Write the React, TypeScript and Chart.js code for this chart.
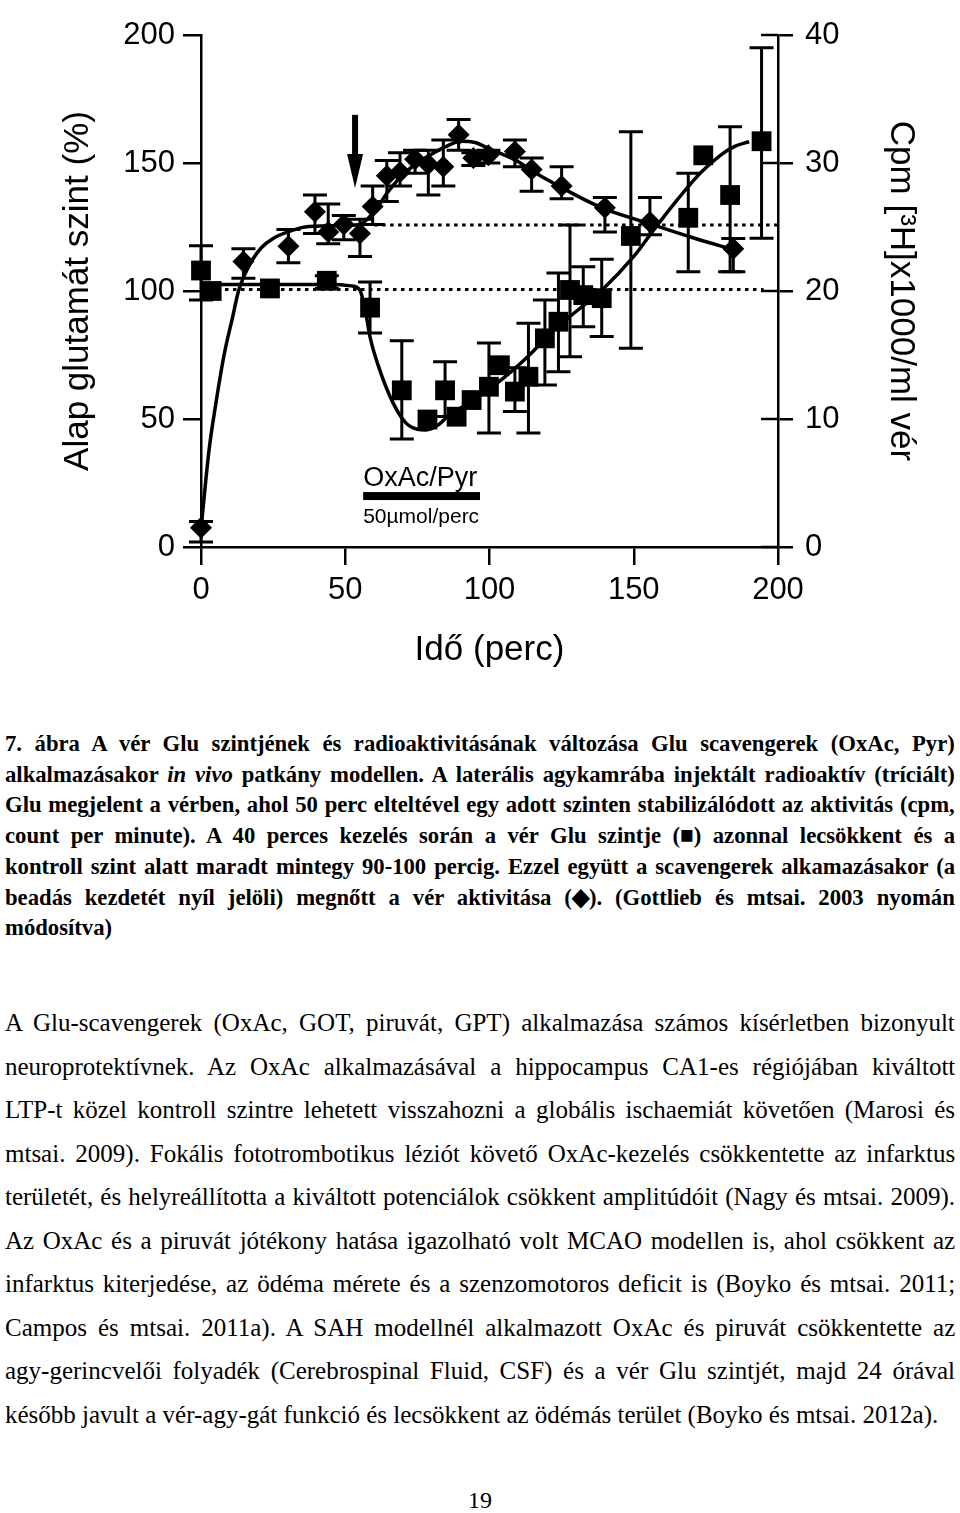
import React, { useEffect, useLayoutEffect, useRef } from 'react';
import { Chart, registerables } from 'chart.js';

Chart.register(...registerables);

// ---------- Axis ticks ----------
const timeTicks = [0, 50, 100, 150, 200];
const gluTicks = [0, 50, 100, 150, 200];
const cpmTicks = [0, 10, 20, 30, 40];

// ---------- Glu level (squares), % of baseline, left axis ----------
const gluTime = [0, 3.7, 23.9, 43.6, 58.6, 69.6, 78.5, 84.6, 88.6, 93.8, 99.8, 103.6, 108.8, 113.5, 119.2, 123.9, 127.9, 132.5, 138.9, 149.0, 168.9, 174.1, 183.4, 194.3];
const gluLevel = [108, 100, 101, 104, 93.5, 61.2, 49.8, 61.2, 50.9, 57.4, 62.6, 71, 60.7, 66.5, 81.5, 88, 100.4, 98.4, 97.2, 121.5, 128.6, 153, 137.5, 158.5];
const gluErrLow = [96.5, null, null, 101, 83.6, 42.2, null, 51, null, null, 44.5, null, 52.9, 44.5, 63.3, 68.5, 74.3, 86, 82.2, 77.6, 107.5, null, 107.5, 120.6];
const gluErrHigh = [117.7, null, null, 106, 103.5, 80.6, null, 72.4, null, null, 79.7, null, 70, 87.4, 96.5, 107, 125.8, 109.5, 112.4, 162.2, 146, null, 164.2, 195];

// ---------- Blood activity (diamonds), cpm [3H] x1000/ml, right axis ----------
const cpmTime = [0, 14.7, 30.3, 39.5, 44.1, 49.5, 55.1, 59.5, 64.4, 69, 74.2, 78.8, 84, 89.3, 94.4, 99.6, 108.8, 114.6, 125, 140, 155.6, 184.5];
const cpmValue = [1.5, 22.3, 23.5, 26.2, 24.6, 25.2, 24.5, 26.6, 29.0, 29.3, 30.3, 29.9, 29.7, 32.2, 30.4, 30.6, 30.9, 29.5, 28.2, 26.5, 25.4, 23.3];
const cpmErrLow = [0.4, 21.0, 22.2, 24.5, 23.7, 24.0, 22.7, 25.2, 27.0, 28.2, 29.2, 27.5, 28.2, 31.0, 29.8, 30.0, 29.7, 27.8, 27.2, 24.6, 24.4, 21.5];
const cpmErrHigh = [2.0, 23.3, 24.8, 27.5, 26.8, 25.9, 25.6, 28.2, 30.2, 30.8, 31.0, 31.0, 31.8, 33.4, 30.8, 31.0, 31.8, 30.4, 29.7, 27.3, 27.3, 24.1];

// ---------- Fitted curves ----------
const gluFitTime = [0, 20, 45, 52, 55, 57, 58.6, 62, 66.7, 71, 75, 78, 82, 86, 93, 101, 108, 115, 121, 130, 139, 150, 157, 165, 173, 180, 185, 190];
const gluFitLevel = [102.5, 102.5, 102.5, 102, 100.5, 92, 82, 69, 56, 48.5, 46, 45.7, 47.5, 51.5, 56.3, 62.6, 69, 76.3, 83.6, 92, 100.4, 113.5, 124, 135.5, 146, 153, 156.5, 158.3];
const cpmFitTime = [0, 2.8, 5, 8, 11, 13, 15, 18, 21, 25, 30, 36, 45, 55, 60, 65, 70, 75, 80, 85, 90, 95, 100, 110, 114, 124, 139, 155, 170, 185];
const cpmFitValue = [1.4, 7.6, 11, 15, 18, 20, 21.2, 22.5, 23.4, 24.1, 24.6, 25, 25.1, 25.2, 26.2, 27.8, 29.1, 30, 30.7, 31.3, 31.7, 31.6, 31.1, 30.1, 29.5, 28.2, 26.5, 25.3, 24.2, 23.2];

// ---------- Dotted baselines ----------
const gluBaselineTime = [0, 195];
const gluBaselineLevel = [100.6, 100.6];
const cpmBaselineTime = [60, 200];
const cpmBaselineValue = [25.16, 25.16];

// ---------- Annotations ----------
const arrowTime = 53.4;
const arrowLevels = [168.8, 140.2]; // from, to (left axis units)
const treatmentTime = [56.2, 96.7];
const treatmentLevel = 19.9;
const treatmentLabel = 'OxAc/Pyr';
const doseLabel = '50µmol/perc';

const SANS = "'Liberation Sans', Arial, Helvetica, sans-serif";
const SERIF = "'Liberation Serif', 'Times New Roman', Times, serif";

const pts = (xs: number[], ys: number[]) => xs.map((x, i) => ({ x, y: ys[i] }));

const figurePlugin = {
  id: 'figureMarks',
  beforeDatasetsDraw(chart: any) {
    const ctx = chart.ctx;
    const xs = chart.scales.x;
    chart.data.datasets.forEach((ds: any) => {
      if (!ds.errLow) return;
      const ys = chart.scales[ds.yAxisID];
      ctx.save();
      ctx.strokeStyle = '#000';
      ctx.lineWidth = 3;
      const cap = 12;
      ds.data.forEach((p: any, j: number) => {
        const lo = ds.errLow[j];
        const hi = ds.errHigh[j];
        if (lo == null || hi == null) return;
        const px = xs.getPixelForValue(p.x);
        const pl = ys.getPixelForValue(lo);
        const ph = ys.getPixelForValue(hi);
        ctx.beginPath();
        ctx.moveTo(px, pl);
        ctx.lineTo(px, ph);
        ctx.moveTo(px - cap, pl);
        ctx.lineTo(px + cap, pl);
        ctx.moveTo(px - cap, ph);
        ctx.lineTo(px + cap, ph);
        ctx.stroke();
      });
      ctx.restore();
    });
  },
  afterDraw(chart: any) {
    const ctx = chart.ctx;
    const xs = chart.scales.x;
    const y = chart.scales.y;
    const y2 = chart.scales.y2;
    const area = chart.chartArea;
    ctx.save();
    // inward part of right-axis ticks
    ctx.strokeStyle = '#000';
    ctx.lineWidth = 2.5;
    y2.ticks.forEach((t: any) => {
      const py = y2.getPixelForValue(t.value);
      ctx.beginPath();
      ctx.moveTo(area.right - 17, py);
      ctx.lineTo(area.right, py);
      ctx.stroke();
    });
    // arrow
    const ax = xs.getPixelForValue(arrowTime);
    const aTop = y.getPixelForValue(arrowLevels[0]);
    const aTip = y.getPixelForValue(arrowLevels[1]);
    const headLen = 34;
    ctx.fillStyle = '#000';
    ctx.fillRect(ax - 3, aTop, 6, aTip - aTop - headLen + 2);
    ctx.beginPath();
    ctx.moveTo(ax - 8, aTip - headLen);
    ctx.lineTo(ax + 8, aTip - headLen);
    ctx.lineTo(ax, aTip);
    ctx.closePath();
    ctx.fill();
    // treatment bar
    const bx1 = xs.getPixelForValue(treatmentTime[0]);
    const bx2 = xs.getPixelForValue(treatmentTime[1]);
    const by = y.getPixelForValue(treatmentLevel);
    ctx.fillRect(bx1, by - 4, bx2 - bx1, 8);
    ctx.textAlign = 'left';
    ctx.textBaseline = 'middle';
    ctx.font = `27px ${SANS}`;
    ctx.fillText(treatmentLabel, bx1, by - 18);
    ctx.font = `21px ${SANS}`;
    ctx.fillText(doseLabel, bx1, by + 21);
    ctx.restore();
  },
};

function ChartFigure() {
  const ref = useRef<HTMLCanvasElement>(null);
  useEffect(() => {
    const canvas = ref.current;
    if (!canvas) return;
    const tickFont = { family: SANS, size: 31 };
    const titleFont = { family: SANS, size: 35 };
    const chart = new Chart(canvas, {
      type: 'scatter',
      data: {
        datasets: [
          {
            label: 'Glu',
            data: pts(gluTime, gluLevel),
            yAxisID: 'y',
            pointStyle: 'rect',
            pointRadius: 14,
            backgroundColor: '#000',
            borderColor: '#000',
            borderWidth: 0,
            showLine: false,
            clip: false,
            errLow: gluErrLow,
            errHigh: gluErrHigh,
          } as any,
          {
            label: 'cpm',
            data: pts(cpmTime, cpmValue),
            yAxisID: 'y2',
            pointStyle: 'rectRot',
            pointRadius: 11,
            backgroundColor: '#000',
            borderColor: '#000',
            borderWidth: 0,
            showLine: false,
            clip: false,
            errLow: cpmErrLow,
            errHigh: cpmErrHigh,
          } as any,
          {
            label: 'Glu fit',
            data: pts(gluFitTime, gluFitLevel),
            yAxisID: 'y',
            showLine: true,
            borderColor: '#000',
            borderWidth: 3.5,
            pointRadius: 0,
            cubicInterpolationMode: 'monotone',
            clip: false,
          } as any,
          {
            label: 'cpm fit',
            data: pts(cpmFitTime, cpmFitValue),
            yAxisID: 'y2',
            showLine: true,
            borderColor: '#000',
            borderWidth: 3.5,
            pointRadius: 0,
            cubicInterpolationMode: 'monotone',
            clip: false,
          } as any,
          {
            label: 'Glu baseline',
            data: pts(gluBaselineTime, gluBaselineLevel),
            yAxisID: 'y',
            showLine: true,
            borderColor: '#000',
            borderWidth: 3,
            borderDash: [3.5, 4.5],
            pointRadius: 0,
            clip: false,
          } as any,
          {
            label: 'cpm baseline',
            data: pts(cpmBaselineTime, cpmBaselineValue),
            yAxisID: 'y2',
            showLine: true,
            borderColor: '#000',
            borderWidth: 3,
            borderDash: [3.5, 4.5],
            pointRadius: 0,
            clip: false,
          } as any,
        ],
      },
      options: {
        animation: false,
        responsive: false,
        maintainAspectRatio: false,
        layout: { padding: { top: 35, left: 0, right: 0, bottom: 0 } },
        plugins: {
          legend: { display: false },
          tooltip: { enabled: false },
        },
        scales: {
          x: {
            type: 'linear',
            position: 'bottom',
            min: 0,
            max: 200,
            afterBuildTicks: (s: any) => { s.ticks = timeTicks.map((v) => ({ value: v })); },
            ticks: { font: tickFont, color: '#000', padding: 7, maxRotation: 0, autoSkip: false },
            grid: { drawOnChartArea: false, drawTicks: true, tickLength: 18, color: '#000', lineWidth: 2.5 },
            border: { display: true, color: '#000', width: 2.5 },
            title: { display: true, text: 'Idő (perc)', font: titleFont, color: '#000', padding: { top: 0, bottom: 29 } },
            afterFit: (s: any) => { s.height = 153; },
          },
          y: {
            type: 'linear',
            position: 'left',
            min: 0,
            max: 200,
            afterBuildTicks: (s: any) => { s.ticks = gluTicks.map((v) => ({ value: v })); },
            ticks: { font: tickFont, color: '#000', padding: 8, autoSkip: false },
            grid: { drawOnChartArea: false, drawTicks: true, tickLength: 18, color: '#000', lineWidth: 2.5 },
            border: { display: true, color: '#000', width: 2.5 },
            title: { display: true, text: 'Alap glutamát szint (%)', font: titleFont, color: '#000', padding: { top: 57, bottom: 0 } },
            afterFit: (s: any) => { s.width = 201; },
          },
          y2: {
            type: 'linear',
            position: 'right',
            min: 0,
            max: 40,
            afterBuildTicks: (s: any) => { s.ticks = cpmTicks.map((v) => ({ value: v })); },
            ticks: { font: tickFont, color: '#000', padding: 12, autoSkip: false },
            grid: { drawOnChartArea: false, drawTicks: true, tickLength: 15, color: '#000', lineWidth: 2.5 },
            border: { display: true, color: '#000', width: 2.5 },
            title: { display: true, text: 'Cpm [³H]x1000/ml vér', font: titleFont, color: '#000', padding: { top: 38, bottom: 0 } },
            afterFit: (s: any) => { s.width = 182; },
          },
        },
      } as any,
      plugins: [figurePlugin as any],
    });
    return () => chart.destroy();
  }, []);
  return (
    <canvas
      ref={ref}
      width={960}
      height={700}
      style={{ position: 'absolute', left: 0, top: 0, width: 960, height: 700, display: 'block' }}
    />
  );
}

type LineProps = { top: number; justify: boolean; scaleX: number; style: React.CSSProperties; children: React.ReactNode };

function Line({ top, justify, scaleX, style, children }: LineProps) {
  const ref = useRef<HTMLSpanElement>(null);
  const lineWidth = 950;
  useLayoutEffect(() => {
    const el = ref.current;
    if (!el || !justify) return;
    el.style.wordSpacing = '0px';
    const w = el.offsetWidth;
    const spaces = ((el.textContent || '').match(/ /g) || []).length;
    if (spaces > 0) el.style.wordSpacing = `${(lineWidth / scaleX - w) / spaces}px`;
  }, [justify, scaleX]);
  return (
    <div
      style={{
        position: 'absolute',
        left: 5,
        top,
        whiteSpace: 'nowrap',
        transform: `scaleX(${scaleX})`,
        transformOrigin: '0 50%',
        ...style,
      }}
    >
      <span ref={ref}>{children}</span>
    </div>
  );
}

const captionLines: React.ReactNode[] = [
  '7. ábra A vér Glu szintjének és radioaktivitásának változása Glu scavengerek (OxAc, Pyr)',
  <>alkalmazásakor <i>in vivo</i> patkány modellen. A laterális agykamrába injektált radioaktív (tríciált)</>,
  'Glu megjelent a vérben, ahol 50 perc elteltével egy adott szinten stabilizálódott az aktivitás (cpm,',
  'count per minute). A 40 perces kezelés során a vér Glu szintje (■) azonnal lecsökkent és a',
  'kontroll szint alatt maradt mintegy 90-100 percig. Ezzel együtt a scavengerek alkamazásakor (a',
  'beadás kezdetét nyíl jelöli) megnőtt a vér aktivitása (◆). (Gottlieb és mtsai. 2003 nyomán',
  'módosítva)',
];

const bodyLines: string[] = [
  'A Glu-scavengerek (OxAc, GOT, piruvát, GPT) alkalmazása számos kísérletben bizonyult',
  'neuroprotektívnek. Az OxAc alkalmazásával a hippocampus CA1-es régiójában kiváltott',
  'LTP-t közel kontroll szintre lehetett visszahozni a globális ischaemiát követően (Marosi és',
  'mtsai. 2009). Fokális fototrombotikus léziót követő OxAc-kezelés csökkentette az infarktus',
  'területét, és helyreállította a kiváltott potenciálok csökkent amplitúdóit (Nagy és mtsai. 2009).',
  'Az OxAc és a piruvát jótékony hatása igazolható volt MCAO modellen is, ahol csökkent az',
  'infarktus kiterjedése, az ödéma mérete és a szenzomotoros deficit is (Boyko és mtsai. 2011;',
  'Campos és mtsai. 2011a). A SAH modellnél alkalmazott OxAc és piruvát csökkentette az',
  'agy-gerincvelői folyadék (Cerebrospinal Fluid, CSF) és a vér Glu szintjét, majd 24 órával',
  'később javult a vér-agy-gát funkció és lecsökkent az ödémás terület (Boyko és mtsai. 2012a).',
];

export default function App() {
  const captionStyle: React.CSSProperties = { fontFamily: SERIF, fontWeight: 'bold', fontSize: 24, lineHeight: '30px', height: 30, color: '#000' };
  const bodyStyle: React.CSSProperties = { fontFamily: SERIF, fontSize: 25, lineHeight: '40px', height: 40, color: '#000' };
  return (
    <div style={{ position: 'absolute', left: 0, top: 0, width: 960, height: 1513, background: '#fff', overflow: 'hidden' }}>
      <ChartFigure />
      {captionLines.map((c, i) => (
        <Line key={'c' + i} top={743 + i * 30.7 - 15} justify={i < captionLines.length - 1} scaleX={0.945} style={captionStyle}>
          {c}
        </Line>
      ))}
      {bodyLines.map((b, i) => (
        <Line key={'b' + i} top={1023 + i * 43.56 - 20} justify={i < bodyLines.length - 1} scaleX={1} style={bodyStyle}>
          {b}
        </Line>
      ))}
      <div style={{ position: 'absolute', left: 0, width: 960, top: 1500 - 20, textAlign: 'center', fontFamily: SERIF, fontSize: 24, lineHeight: '40px', color: '#000' }}>
        19
      </div>
    </div>
  );
}
